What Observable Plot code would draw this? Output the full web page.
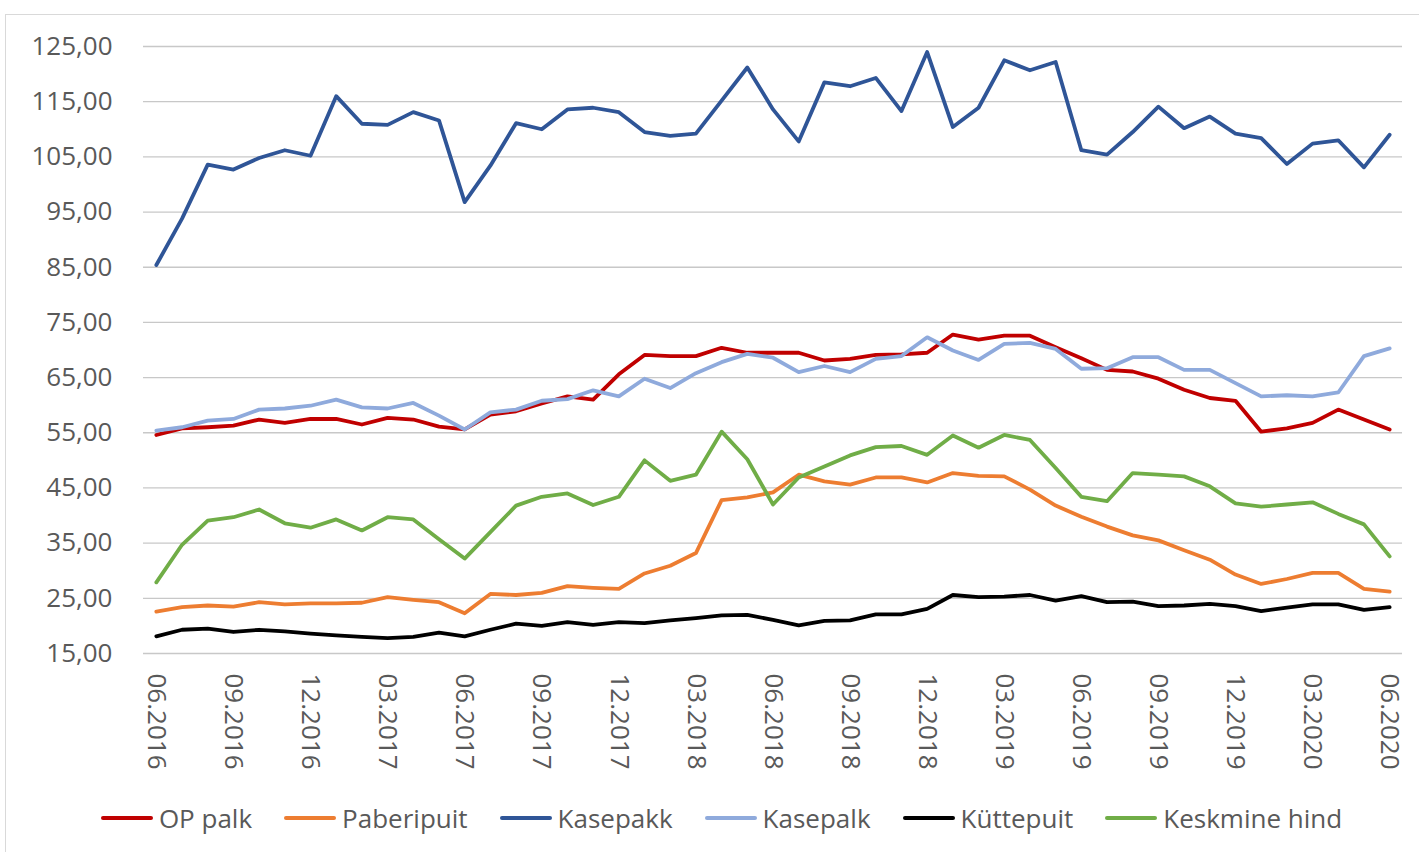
<!DOCTYPE html>
<html>
<head>
<meta charset="utf-8">
<script src="https://cdn.jsdelivr.net/npm/d3@7"></script>
<script src="https://cdn.jsdelivr.net/npm/@observablehq/plot@0.6"></script>
<style>
  html, body { margin: 0; padding: 0; background: #fff; }
  #wrap { position: relative; width: 1419px; height: 852px; overflow: hidden; font-family: "Open Sans", sans-serif; }
  #border { position: absolute; left: 5px; top: 14px; width: 1500px; height: 900px; border-left: 1.5px solid #d9d9d9; border-top: 1.5px solid #d9d9d9; }
  #chart { position: absolute; left: 0; top: 0; }
  #chart svg { display: block; }
  #legend { position: absolute; left: 0; top: 795px; width: 1419px; height: 46px; display: flex; justify-content: center; align-items: center; padding-left: 24px; box-sizing: border-box; color: #595959; font-size: 26px; }
  .item { display: flex; align-items: center; margin: 0 16px; }
  .sw { width: 52px; height: 4px; border-radius: 2px; margin-right: 6px; }
</style>
</head>
<body>
<div id="wrap">
  <div id="border"></div>
  <div id="chart"></div>
  <div id="legend"></div>
</div>
<script>
const months = [
  "06.2016","07.2016","08.2016","09.2016","10.2016","11.2016","12.2016",
  "01.2017","02.2017","03.2017","04.2017","05.2017","06.2017","07.2017","08.2017","09.2017","10.2017","11.2017","12.2017",
  "01.2018","02.2018","03.2018","04.2018","05.2018","06.2018","07.2018","08.2018","09.2018","10.2018","11.2018","12.2018",
  "01.2019","02.2019","03.2019","04.2019","05.2019","06.2019","07.2019","08.2019","09.2019","10.2019","11.2019","12.2019",
  "01.2020","02.2020","03.2020","04.2020","05.2020","06.2020"
];
const xTickLabels = ["06.2016","09.2016","12.2016","03.2017","06.2017","09.2017","12.2017","03.2018","06.2018","09.2018","12.2018","03.2019","06.2019","09.2019","12.2019","03.2020","06.2020"];
const yTicks = [15, 25, 35, 45, 55, 65, 75, 85, 95, 105, 115, 125];

const seriesNames = ["OP palk", "Paberipuit", "Kasepakk", "Kasepalk", "Küttepuit", "Keskmine hind"];
const seriesColors = ["#c00000", "#ed7d31", "#2f5597", "#8faadc", "#000000", "#70ad47"];

const opPalk = [54.6, 55.8, 56.0, 56.3, 57.4, 56.8, 57.5, 57.5, 56.5, 57.7,
  57.4, 56.1, 55.6, 58.3, 58.9, 60.3, 61.6, 61.0, 65.6, 69.1,
  68.9, 68.9, 70.4, 69.5, 69.5, 69.5, 68.1, 68.4, 69.1, 69.2,
  69.5, 72.8, 71.9, 72.6, 72.6, 70.5, 68.5, 66.4, 66.1, 64.8,
  62.8, 61.3, 60.8, 55.2, 55.8, 56.8, 59.2, 57.4, 55.6];
const paberipuit = [22.6, 23.4, 23.7, 23.5, 24.3, 23.9, 24.1, 24.1, 24.2, 25.2,
  24.7, 24.3, 22.3, 25.8, 25.6, 26.0, 27.2, 26.9, 26.7, 29.5,
  30.9, 33.2, 42.8, 43.3, 44.2, 47.4, 46.2, 45.6, 46.9, 46.9,
  46.0, 47.7, 47.2, 47.1, 44.7, 41.8, 39.8, 38.0, 36.4, 35.5,
  33.7, 32.0, 29.3, 27.6, 28.5, 29.6, 29.6, 26.7, 26.2];
const kasepakk = [85.4, 93.8, 103.6, 102.7, 104.8, 106.2, 105.2, 116.0, 111.0, 110.8,
  113.1, 111.6, 96.8, 103.4, 111.1, 110.0, 113.6, 113.9, 113.1, 109.5,
  108.8, 109.2, 115.2, 121.2, 113.6, 107.8, 118.5, 117.8, 119.3, 113.3,
  124.0, 110.4, 113.9, 122.5, 120.7, 122.2, 106.2, 105.4, 109.5, 114.1,
  110.2, 112.3, 109.2, 108.4, 103.7, 107.4, 108.0, 103.1, 109.0];
const kasepalk = [55.4, 56.0, 57.2, 57.5, 59.2, 59.4, 59.9, 61.0, 59.6, 59.4,
  60.4, 58.1, 55.6, 58.7, 59.2, 60.8, 61.1, 62.7, 61.6, 64.8,
  63.1, 65.8, 67.8, 69.3, 68.6, 66.0, 67.1, 66.0, 68.4, 68.9,
  72.3, 69.9, 68.2, 71.1, 71.3, 70.2, 66.6, 66.7, 68.7, 68.7,
  66.4, 66.4, 64.0, 61.6, 61.8, 61.6, 62.3, 68.9, 70.3];
const kuttepuit = [18.1, 19.3, 19.5, 18.9, 19.3, 19.0, 18.6, 18.3, 18.0, 17.8,
  18.0, 18.8, 18.1, 19.3, 20.4, 20.0, 20.7, 20.2, 20.7, 20.5,
  21.0, 21.4, 21.9, 22.0, 21.1, 20.1, 20.9, 21.0, 22.1, 22.1,
  23.1, 25.6, 25.2, 25.3, 25.6, 24.6, 25.4, 24.3, 24.4, 23.6,
  23.7, 24.0, 23.6, 22.7, 23.3, 23.9, 23.9, 22.9, 23.4];
const keskmineHind = [27.9, 34.7, 39.1, 39.7, 41.1, 38.6, 37.8, 39.3, 37.3, 39.7,
  39.3, 35.7, 32.2, 37.0, 41.8, 43.4, 44.0, 41.9, 43.4, 50.0,
  46.3, 47.4, 55.2, 50.2, 42.0, 46.9, 48.9, 50.9, 52.4, 52.6,
  51.0, 54.5, 52.3, 54.6, 53.7, 48.6, 43.4, 42.6, 47.7, 47.4,
  47.1, 45.3, 42.2, 41.6, 42.0, 42.4, 40.3, 38.4, 32.6];

const seriesValues = [opPalk, paberipuit, kasepakk, kasepalk, kuttepuit, keskmineHind];
const data = seriesNames.flatMap((name, s) =>
  seriesValues[s].map((v, i) => ({series: name, month: months[i], value: v}))
);

const fmt = d => d.toFixed(2).replace(".", ",");

const chart = Plot.plot({
  width: 1419,
  height: 795,
  marginLeft: 143,
  marginRight: 17,
  marginTop: 46,
  marginBottom: 142,
  x: {type: "point", domain: months, padding: 0.5},
  y: {domain: [15, 125]},
  color: {domain: seriesNames, range: seriesColors},
  style: {fontFamily: "'Open Sans', sans-serif", fontSize: "26px", color: "#595959", background: "transparent", overflow: "visible"},
  marks: [
    Plot.gridY(yTicks, {stroke: "#c8c8c8", strokeOpacity: 1, strokeWidth: 1.3}),
    Plot.axisY(yTicks, {tickSize: 0, tickPadding: 31, tickFormat: fmt, label: null, fontSize: 26, fill: "#595959"}),
    Plot.axisX(xTickLabels, {tickSize: 0, tickPadding: 20, tickRotate: 90, label: null, fontSize: 26, fill: "#595959"}),
    Plot.line(data, {x: "month", y: "value", z: "series", stroke: "series", strokeWidth: 3.8, strokeLinejoin: "round", strokeLinecap: "round"})
  ]
});
document.getElementById("chart").appendChild(chart);

const legend = document.getElementById("legend");
seriesNames.forEach((name, i) => {
  const item = document.createElement("div");
  item.className = "item";
  const sw = document.createElement("div");
  sw.className = "sw";
  sw.style.background = seriesColors[i];
  const label = document.createElement("span");
  label.textContent = name;
  item.appendChild(sw);
  item.appendChild(label);
  legend.appendChild(item);
});
</script>
</body>
</html>
